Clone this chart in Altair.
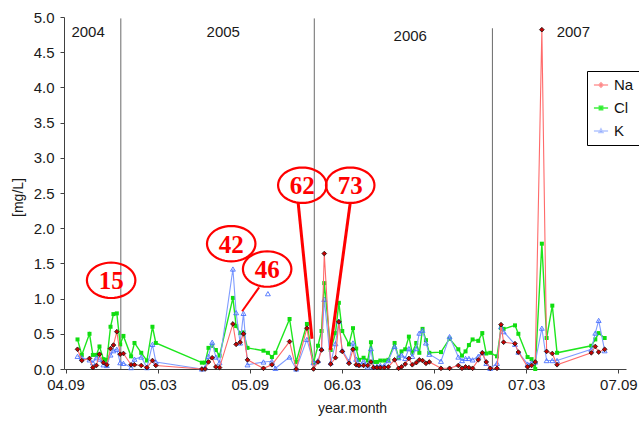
import json
import math
import altair as alt
import pandas as pd

# sample times in months after 2004.09
t = [0.78, 1.06, 1.56, 1.78, 2.01, 2.21, 2.47, 2.69, 2.93, 3.12, 3.34, 3.56, 3.77, 4.27, 4.49, 4.93, 5.30, 5.66, 5.88,
     8.88, 9.09, 9.31, 9.55, 9.79, 10.03, 10.90, 11.11, 11.37, 11.59, 11.85, 12.89, 13.18, 13.44, 13.67, 14.59, 15.02, 15.72,
     16.15, 16.44, 16.67, 16.85, 17.27, 17.58, 17.80, 18.02, 18.46, 18.72, 18.93, 19.11, 19.41, 19.68, 19.89, 20.06, 20.28,
     20.50, 20.76, 21.02, 21.43, 21.69, 21.88, 22.12, 22.36, 22.58, 22.84, 23.04, 23.25, 23.47, 23.69, 24.45, 25.01, 25.58,
     25.82, 26.05, 26.27, 26.51, 26.88, 27.14, 27.40, 27.66, 28.10, 28.36, 28.53, 29.27, 29.49, 30.09, 30.35, 30.59, 31.02,
     31.33, 31.70, 32.01, 34.24, 34.50, 34.72, 35.11]

na = [0.28, 0.12, 0.15, 0.02, 0.05, 0.21, 0.09, 0.06, 0.29, 0.34, 0.53, 0.21, 0.22, 0.06, 0.06, 0.05, 0.02, 0.12, 0.05,
      0.00, 0.00, 0.10, 0.16, 0.03, 0.02, 0.64, 0.35, 0.38, 0.50, 0.13, 0.01, None, 0.06, None, 0.39, 0.00, 0.58,
      0.00, 0.10, 0.27, 1.64, 0.07, 0.16, 0.67, 0.25, 0.08, 0.28, 0.06, 0.05, 0.05, 0.05, 0.10, 0.02, 0.02,
      0.02, 0.02, 0.03, 0.13, 0.01, 0.03, 0.07, 0.15, 0.06, 0.09, 0.13, 0.12, 0.08, 0.10, 0.01, 0.01, 0.05,
      0.01, 0.03, 0.02, 0.01, 0.13, 0.23, 0.10, 0.01, 0.01, 0.63, 0.38, 0.36, 0.24, 0.03, 0.05, 0.10, 4.82,
      0.25, 0.22, 0.06, 0.23, 0.32, 0.24, 0.28]

cl = [0.42, 0.20, 0.50, 0.20, 0.20, 0.32, 0.14, 0.13, 0.60, 0.78, 0.79, 0.35, 0.47, 0.18, 0.37, 0.23, 0.12, 0.60, 0.37,
      0.09, 0.09, 0.30, 0.33, 0.27, 0.19, 1.01, 0.61, 0.51, 0.52, 0.30, 0.26, 0.23, 0.17, 0.23, 0.71, 0.10, 0.64,
      0.09, 0.33, 0.54, 1.22, 0.27, 0.51, 0.94, 0.54, 0.35, 0.58, 0.29, 0.13, 0.16, 0.12, 0.38, 0.10, 0.10,
      0.12, 0.12, 0.13, 0.37, 0.16, 0.25, 0.28, 0.46, 0.23, 0.37, 0.23, 0.57, 0.41, 0.23, 0.24, 0.43, 0.28,
      0.19, 0.25, 0.34, 0.42, 0.40, 0.51, 0.22, 0.23, 0.18, 0.58, 0.57, 0.62, 0.50, 0.17, 0.14, 0.00, 1.78,
      0.44, 0.90, 0.23, 0.33, 0.42, 0.51, 0.44]

k = [0.18, 0.16, 0.13, 0.09, 0.16, 0.14, 0.06, 0.05, 0.20, 0.26, 0.28, 0.09, 0.08, 0.02, 0.14, 0.17, 0.02, 0.35, 0.10,
     0.00, 0.02, 0.18, 0.38, 0.17, 0.09, 1.42, 0.80, 0.37, 0.79, 0.06, 0.10, None, 0.11, 0.01, 0.17, 0.00, 0.42,
     0.09, 0.12, 0.29, 0.99, 0.09, 0.36, 0.68, 0.27, 0.11, 0.37, 0.14, 0.06, 0.11, 0.03, 0.29, 0.03, 0.04,
     0.05, 0.05, 0.12, 0.32, 0.16, 0.20, 0.15, 0.29, 0.18, 0.29, 0.51, 0.55, 0.37, 0.21, 0.11, 0.46, 0.17,
     0.12, 0.15, 0.15, 0.13, 0.18, 0.23, 0.08, 0.01, 0.08, 0.60, 0.53, 0.35, 0.24, 0.07, 0.09, 0.10, 0.58,
     0.12, 0.12, 0.12, 0.28, 0.51, 0.69, 0.26]

# isolated K reading
k_single_t = [13.18]
k_single_v = [1.07]

series = ["Na", "Cl", "K"]
tick_months = [0, 6, 12, 18, 24, 30, 36]
tick_labels = ["04.09", "05.03", "05.09", "06.03", "06.09", "07.03", "07.09"]

years = ["2004", "2005", "2006", "2007"]
year_t = [1.47, 10.27, 22.45, 33.07]
year_v = [4.79, 4.79, 4.73, 4.79]

divider_t = [3.6, 16.2, 27.8]
divider_top = [4.98, 4.98, 4.84]

ann_labels = ["15", "42", "46", "62", "73"]
ann_t = [2.97, 10.79, 13.13, 15.42, 18.54]
ann_v = [1.26, 1.78, 1.42, 2.61, 2.61]

call_labels = ["46", "62", "73"]
call_t1 = [12.61, 15.15, 18.54]
call_v1 = [1.16, 2.36, 2.36]
call_t2 = [11.50, 16.05, 17.24]
call_v2 = [0.82, 0.43, 0.27]

FONT = "Liberation Sans"
AX = "#404040"

x_scale = alt.Scale(domain=[-0.1, 36.5], nice=False, zero=False)
y_scale = alt.Scale(domain=[0, 5], nice=False, zero=True)
label_expr = json.dumps(tick_labels) + "[round(datum.value / 6)]"

x_axis = alt.Axis(values=tick_months, labelExpr=label_expr, title="year.month", grid=False,
                  tickSize=4, tickColor=AX, domainColor=AX, labelFont=FONT, labelFontSize=15,
                  labelColor="#1a1a1a", labelPadding=4, titleFont=FONT, titleFontSize=14,
                  titleFontWeight="normal", titleColor="#1a1a1a", titleY=39, titleX=288,
                  titleBaseline="middle")
y_axis = alt.Axis(values=[i * 0.5 for i in range(11)], format=".1f", title="[mg/L]", grid=False,
                  tickSize=4, tickColor=AX, domainColor=AX, labelFont=FONT, labelFontSize=15,
                  labelColor="#1a1a1a", labelPadding=6, labelOffset=0, titleFont=FONT, titleFontSize=14,
                  titleFontWeight="normal", titleColor="#1a1a1a", titleX=-46, titleY=180,
                  titleBaseline="middle", titleAngle=-90)


def X(f):
    return alt.X(f, scale=x_scale, axis=x_axis)


def Y(f):
    return alt.Y(f, scale=y_scale, axis=y_axis)


rows = []
for name, vals in (("Na", na), ("Cl", cl), ("K", k)):
    for ti, v in zip(t, vals):
        if v is not None:
            rows.append({"t": ti, "v": v, "s": name})
df = pd.DataFrame(rows)
base = alt.Chart(df)

line_col = {"Na": "#ff6a6a", "Cl": "#1ee61e", "K": "#7f9cff"}
line_w = {"Na": 1.1, "Cl": 1.4, "K": 1.1}


def series_layers(name, point_mark):
    src = base.transform_filter(alt.datum.s == name)
    ln = src.mark_line(color=line_col[name], strokeWidth=line_w[name]).encode(
        x=X("t:Q"), y=Y("v:Q"), order="t:Q")
    pt = src.mark_point(**point_mark).encode(x=X("t:Q"), y=Y("v:Q"))
    return ln + pt


cl_layers = series_layers("Cl", dict(shape="square", filled=True, color="#10dd10", size=16, opacity=1))
k_layers = series_layers("K", dict(shape="triangle-up", filled=False, color="#4a70ff", size=24,
                                   strokeWidth=0.9, opacity=1))
na_layers = series_layers("Na", dict(shape="diamond", filled=True, fill="#c80000", stroke="#111111",
                                     strokeWidth=0.8, size=22, opacity=1))

k_single = alt.Chart(pd.DataFrame({"t": k_single_t, "v": k_single_v})).mark_point(
    shape="triangle-up", filled=False, color="#4a70ff", size=24, strokeWidth=0.9, opacity=1
).encode(x=X("t:Q"), y=Y("v:Q"))

dividers = alt.Chart(pd.DataFrame({"t": divider_t, "top": divider_top})).mark_rule(
    color="#6a6a6a", strokeWidth=1
).encode(x=X("t:Q"), y=Y("top:Q"), y2=alt.datum(0))

year_text = alt.Chart(pd.DataFrame({"t": year_t, "v": year_v, "lab": years})).mark_text(
    font=FONT, fontSize=15, color="#1a1a1a", baseline="middle"
).encode(x=X("t:Q"), y=Y("v:Q"), text="lab:N")

n = 48
pts = [(math.cos(2 * math.pi * i / n), 0.73 * math.sin(2 * math.pi * i / n)) for i in range(n)]
ellipse_path = "M" + " L".join(f"{a:.3f},{b:.3f}" for a, b in pts) + " Z"

ann_df = pd.DataFrame({"t": ann_t, "v": ann_v, "lab": ann_labels})
ellipses = alt.Chart(ann_df).mark_point(
    shape=ellipse_path, size=2350, filled=False, stroke="#ff0000", strokeWidth=2.2, opacity=1
).encode(x=X("t:Q"), y=Y("v:Q"))
ann_text = alt.Chart(ann_df).mark_text(
    font="Liberation Serif", fontWeight="bold", fontSize=25, color="#ff0000", baseline="middle", dy=1
).encode(x=X("t:Q"), y=Y("v:Q"), text="lab:N")

call_df = pd.DataFrame({"lab": call_labels, "t1": call_t1, "v1": call_v1, "t2": call_t2, "v2": call_v2})
callouts_thin = alt.Chart(call_df).transform_filter(alt.datum.lab == "46").mark_rule(
    color="#ff0000", strokeWidth=2
).encode(x=X("t1:Q"), y=Y("v1:Q"), x2="t2:Q", y2="v2:Q")
callouts_thick = alt.Chart(call_df).transform_filter(alt.datum.lab != "46").mark_rule(
    color="#ff0000", strokeWidth=3
).encode(x=X("t1:Q"), y=Y("v1:Q"), x2="t2:Q", y2="v2:Q")

# legend (drawn through a clipped, off-domain point layer)
legend_paths = [
    "M-1,0L1,0M0,-0.32L0.32,0L0,0.32L-0.32,0Z",
    "M-1,0L1,0M-0.25,-0.25L0.25,-0.25L0.25,0.25L-0.25,0.25Z",
    "M-1,0L1,0M0,-0.32L0.3,0.24L-0.3,0.24Z",
]
leg = alt.Legend(title=None, orient="none", legendX=523, legendY=54, strokeColor="#000000",
                 fillColor="#ffffff", padding=6, rowPadding=7, labelFont=FONT, labelFontSize=15,
                 labelColor="#111111", labelOffset=5, symbolSize=200, symbolStrokeWidth=1.3,
                 symbolOpacity=1)
legend_layer = alt.Chart(pd.DataFrame({"s": series, "t": [0, 0, 0], "v": [-1, -1, -1]})).mark_point(
    clip=True, filled=True
).encode(
    x=X("t:Q"), y=Y("v:Q"),
    fill=alt.Fill("s:N", scale=alt.Scale(domain=series, range=["#e00000", "#00dd00", "#3a64ff"]), legend=leg),
    stroke=alt.Stroke("s:N", scale=alt.Scale(domain=series, range=["#ff9a9a", "#40f040", "#b4c6ff"]), legend=leg),
    shape=alt.Shape("s:N", scale=alt.Scale(domain=series, range=legend_paths), legend=leg),
)

chart = alt.layer(
    dividers, year_text, cl_layers, k_layers, na_layers, k_single,
    callouts_thin, callouts_thick, ellipses, ann_text, legend_layer
).properties(
    width=562, height=352,
    autosize=alt.AutoSizeParams(type="none"),
    padding={"left": 64, "top": 17, "right": 13, "bottom": 60},
    background="white",
).configure_view(stroke=None)

chart.save("out.html", embed_options={"renderer": "svg", "actions": False})
